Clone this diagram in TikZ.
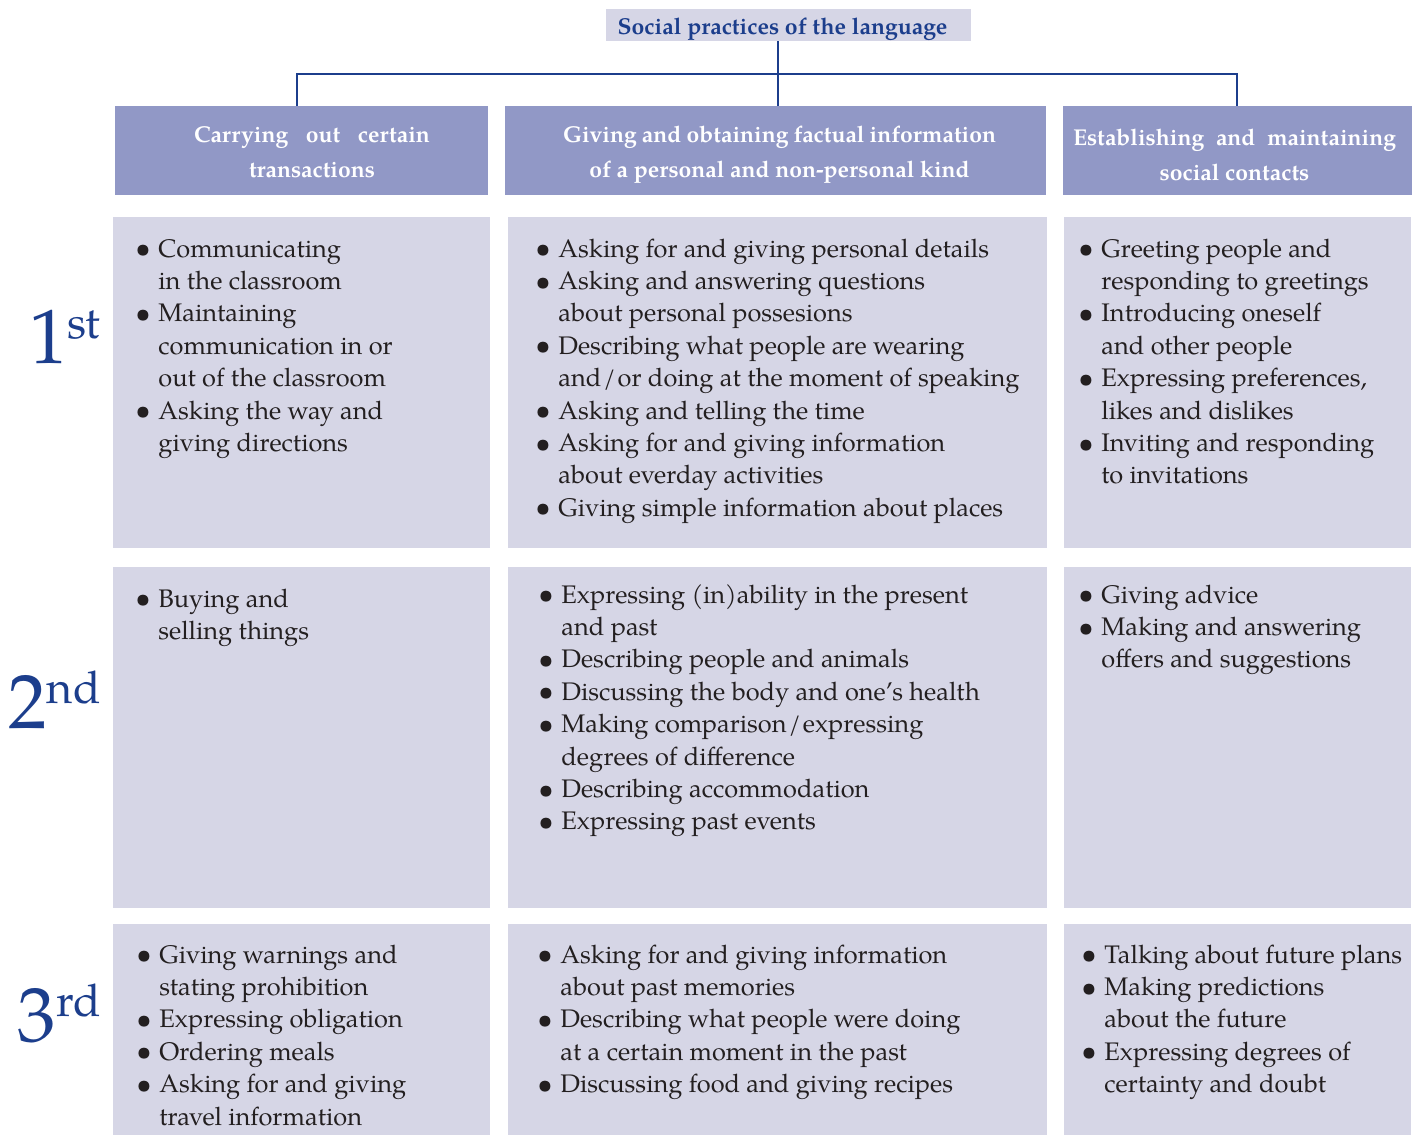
\documentclass[tikz,border=0pt]{standalone}
\usepackage{fontspec}
\setmainfont{texgyrepagella}[Extension=.otf, UprightFont=*-regular, BoldFont=*-bold, ItalicFont=*-italic, BoldItalicFont=*-bolditalic]
\definecolor{lav}{RGB}{214,214,230}
\definecolor{hdr}{RGB}{145,152,198}
\definecolor{navy}{RGB}{28,62,140}
\definecolor{ink}{RGB}{35,31,32}
\tikzset{
 cell/.style={fill=lav, draw=none, inner sep=0, outer sep=0, anchor=north west},
 hdrbox/.style={fill=hdr, draw=none, inner sep=0, outer sep=0, anchor=north west},
 titlebox/.style={fill=lav, draw=none, inner sep=0, outer sep=0, anchor=north west},
 conn/.style={draw=navy, line width=1pt},
 body/.style={anchor=base west, inner sep=0, text=ink, font=\fontsize{12.7}{16.2}\selectfont},
 hdrtext/.style={anchor=base, inner sep=0, text=white, font=\bfseries\fontsize{11.45}{17.5}\selectfont},
 titletext/.style={anchor=base, inner sep=0, text=navy, font=\bfseries\fontsize{11.5}{13}\selectfont},
 ordtext/.style={anchor=base east, inner sep=0, text=navy},
}
\newcommand\bi{\llap{\makebox[11.5pt][l]{\raisebox{-0.3pt}{\scalebox{1.08}{\textbullet}}}}}
\newcommand\ordn[2]{{\fontsize{38.5}{40}\selectfont #1}\raisebox{12.5pt}{\fontsize{22.5}{24}\selectfont #2}}
\begin{document}
\begin{tikzpicture}[x=0.5pt,y=-0.5pt]
\useasboundingbox (0,0) rectangle (1413,1135);
% title
\node[titlebox, minimum width=182.5pt, minimum height=16pt] (title) at (606,9) {};
\node[titletext] (titlet) at (782.5,34) {Social practices of the language};
% headers
\node[hdrbox, minimum width=186.5pt, minimum height=44.5pt] (h1) at (115,106) {};
\node[hdrbox, minimum width=270.5pt, minimum height=44.5pt] (h2) at (505,106) {};
\node[hdrbox, minimum width=174.5pt, minimum height=44.5pt] (h3) at (1063,106) {};
\node[hdrtext] (h1t) at (312,142) {\begin{tabular}[t]{@{}c@{}}\makebox[118pt][s]{Carrying out certain}\\ transactions\end{tabular}};
\node[hdrtext] (h2t) at (779.5,142) {\begin{tabular}[t]{@{}c@{}}\makebox[216.5pt][s]{Giving and obtaining factual information}\\ of a personal and non-personal kind\end{tabular}};
\node[hdrtext] (h3t) at (1234.5,145) {\begin{tabular}[t]{@{}c@{}}\makebox[161.5pt][s]{Establishing and maintaining}\\ social contacts\end{tabular}};
% connectors
\coordinate (jl) at (297,74);
\coordinate (jm) at (778,74);
\coordinate (jr) at (1237,74);
\draw[conn] (title.south -| jm) -- (h2.north -| jm);
\draw[conn] (h1.north -| jl) -- (jl) -- (jr) -- (h3.north -| jr);
% cells
\node[cell, minimum width=188.5pt, minimum height=165.5pt] (c11) at (113,217) {};
\node[cell, minimum width=269.5pt, minimum height=165.5pt] (c12) at (508,217) {};
\node[cell, minimum width=173.5pt, minimum height=165.5pt] (c13) at (1064,217) {};
\node[cell, minimum width=188.5pt, minimum height=170.5pt] (c21) at (113,567) {};
\node[cell, minimum width=269.5pt, minimum height=170.5pt] (c22) at (508,567) {};
\node[cell, minimum width=173.5pt, minimum height=170.5pt] (c23) at (1064,567) {};
\node[cell, minimum width=188.5pt, minimum height=105.5pt] (c31) at (113,924) {};
\node[cell, minimum width=269.5pt, minimum height=105.5pt] (c32) at (508,924) {};
\node[cell, minimum width=173.5pt, minimum height=105.5pt] (c33) at (1064,924) {};
% ordinals
\node[ordtext] (o1) at (101,363) {\ordn{1}{st}};
\node[ordtext] (o2) at (101,728) {\ordn{2}{nd}};
\node[ordtext] (o3) at (101,1041) {\ordn{3}{rd}};
% texts row 1
\node[body] (t11) at (158,257) {\begin{tabular}[t]{@{}l@{}}
\bi Communicating\\ in the classroom\\
\bi Maintaining\\ communication in or\\ out of the classroom\\
\bi Asking the way and\\ giving directions\end{tabular}};
\node[body] (t12) at (558,257) {\begin{tabular}[t]{@{}l@{}}
\bi Asking for and giving personal details\\
\bi Asking and answering questions\\ about personal possesions\\
\bi Describing what people are wearing\\ and\kern1pt/\kern1pt or doing at the moment of speaking\\
\bi Asking and telling the time\\
\bi Asking for and giving information\\ about everday activities\\
\bi Giving simple information about places\end{tabular}};
\node[body] (t13) at (1101,257) {\begin{tabular}[t]{@{}l@{}}
\bi Greeting people and\\ responding to greetings\\
\bi Introducing oneself\\ and other people\\
\bi Expressing preferences,\\ likes and dislikes\\
\bi Inviting and responding\\ to invitations\end{tabular}};
% row 2
\node[body] (t21) at (158,607) {\begin{tabular}[t]{@{}l@{}}
\bi Buying and\\ selling things\end{tabular}};
\node[body] (t22) at (561,603) {\begin{tabular}[t]{@{}l@{}}
\bi Expressing (in)ability in the present\\ and past\\
\bi Describing people and animals\\
\bi Discussing the body and one's health\\
\bi Making comparison\kern1pt/\kern1pt expressing\\ degrees of difference\\
\bi Describing accommodation\\
\bi Expressing past events\end{tabular}};
\node[body] (t23) at (1101,603) {\begin{tabular}[t]{@{}l@{}}
\bi Giving advice\\
\bi Making and answering\\ offers and suggestions\end{tabular}};
% row 3
\node[body] (t31) at (159,963) {\begin{tabular}[t]{@{}l@{}}
\bi Giving warnings and\\ stating prohibition\\
\bi Expressing obligation\\
\bi Ordering meals\\
\bi Asking for and giving\\ travel information\end{tabular}};
\node[body] (t32) at (560,963) {\begin{tabular}[t]{@{}l@{}}
\bi Asking for and giving information\\ about past memories\\
\bi Describing what people were doing\\ at a certain moment in the past\\
\bi Discussing food and giving recipes\end{tabular}};
\node[body] (t33) at (1104,963) {\begin{tabular}[t]{@{}l@{}}
\bi Talking about future plans\\
\bi Making predictions\\ about the future\\
\bi Expressing degrees of\\ certainty and doubt\end{tabular}};
\end{tikzpicture}
\end{document}
